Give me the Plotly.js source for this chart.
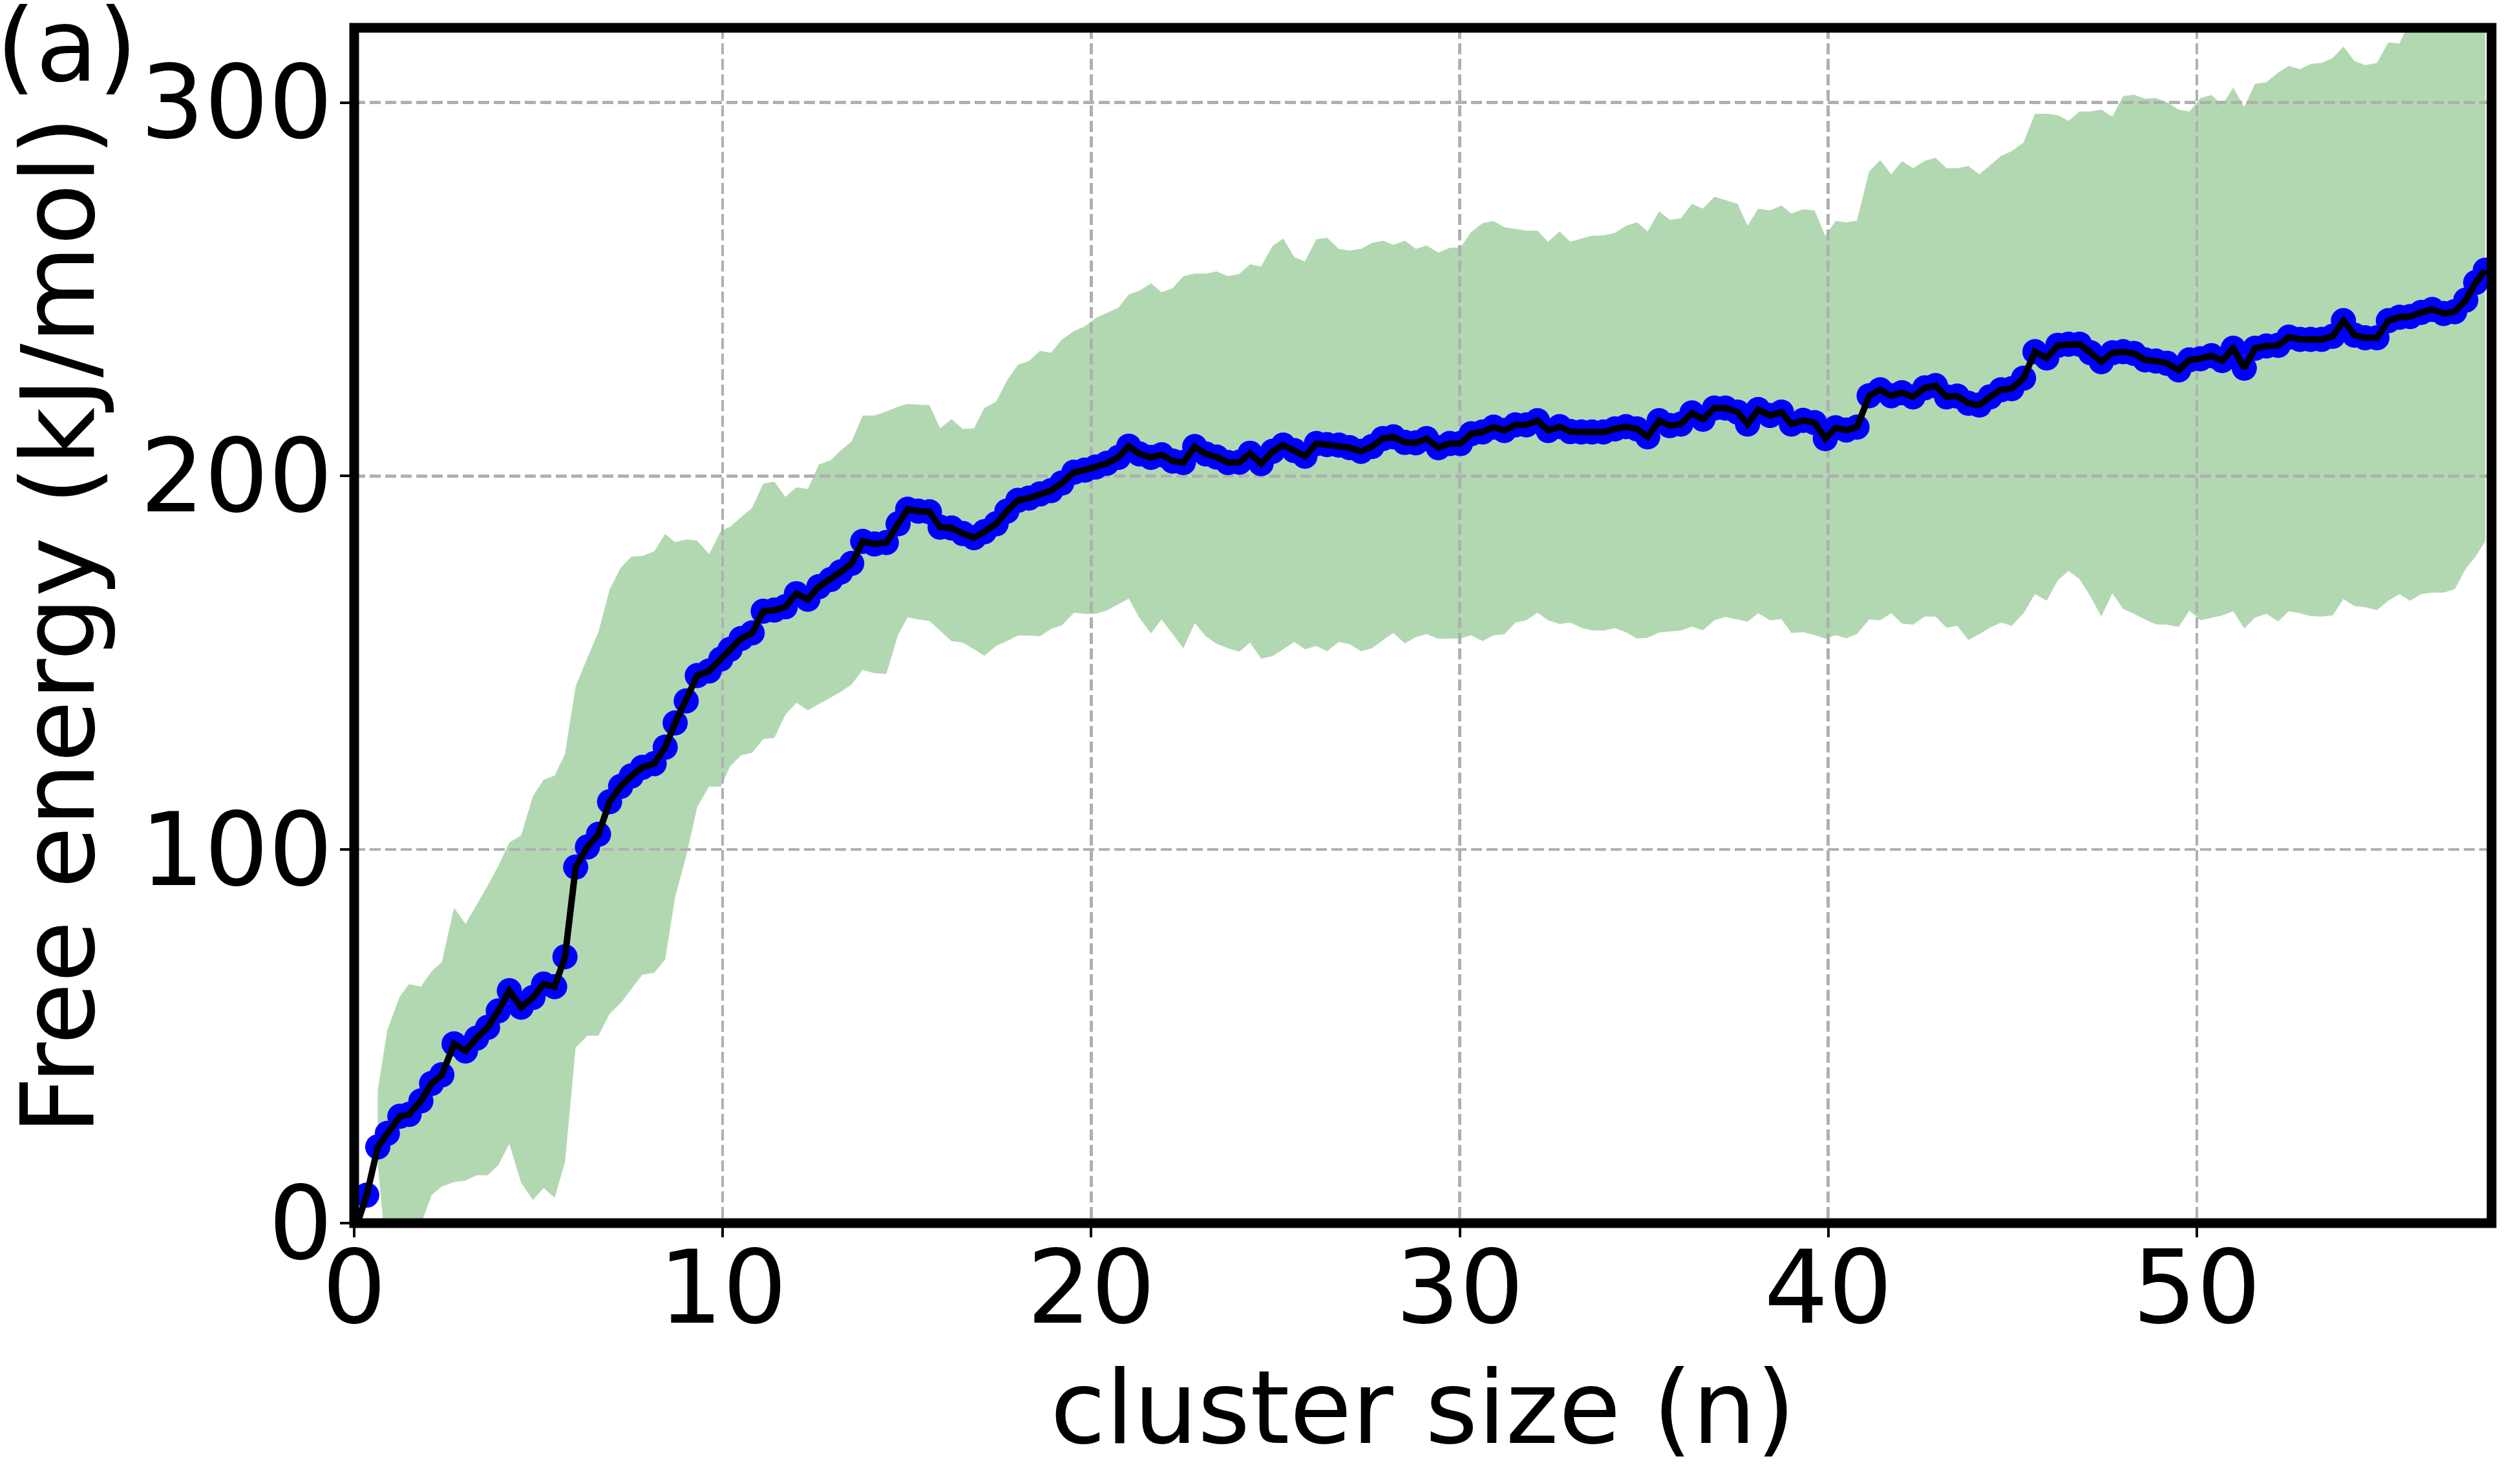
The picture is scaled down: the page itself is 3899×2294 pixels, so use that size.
<!DOCTYPE html>
<html>
<head>
<meta charset="utf-8">
<script src="https://cdn.plot.ly/plotly-3.0.1.min.js"></script>
<style>
  html, body { margin: 0; padding: 0; background: #fff; }
  #chart { width: 3899px; height: 2294px; }
</style>
</head>
<body>
<div id="chart"></div>
<script>
// cluster size (n) of every sample
let clusterSize = [
  0.02, 0.34, 0.64, 0.90, 1.24, 1.49, 1.81, 2.10, 2.38, 2.71, 3.02, 3.32, 3.62, 3.91, 4.21, 4.53, 4.85, 5.14, 5.44, 5.72,
  6.01, 6.33, 6.63, 6.93, 7.23, 7.52, 7.82, 8.14, 8.44, 8.71, 9.01, 9.31, 9.63, 9.95, 10.2, 10.5, 10.8, 11.1, 11.4, 11.7, 12.0,
  12.31, 12.61, 12.93, 13.2, 13.5, 13.8, 14.12, 14.44, 14.76, 15.02, 15.31, 15.61, 15.9, 16.21, 16.52, 16.82, 17.1, 17.42, 17.71, 18.01,
  18.31, 18.61, 18.91, 19.2, 19.53, 19.83, 20.12, 20.42, 20.74, 21.02, 21.31, 21.62, 21.91, 22.21, 22.5, 22.81, 23.11, 23.4, 23.71, 24.02,
  24.31, 24.61, 24.92, 25.21, 25.51, 25.8, 26.11,
  26.4, 26.72, 27.01, 27.32, 27.62, 27.91, 28.2, 28.51, 28.81, 29.1, 29.42, 29.73, 30.02, 30.31, 30.62, 30.92, 31.21, 31.51, 31.81, 32.11,
  32.4, 32.71, 33.0, 33.3, 33.59, 33.9, 34.21, 34.51, 34.81, 35.1, 35.41, 35.7, 36.0, 36.3, 36.6, 36.91, 37.21, 37.54, 37.81, 38.1,
  38.42, 38.73, 39.0, 39.32, 39.63, 39.92,
  40.2, 40.49, 40.78, 41.11, 41.41, 41.71, 42.0, 42.3, 42.62, 42.91, 43.21, 43.5, 43.8, 44.1, 44.39, 44.69, 44.98, 45.3, 45.61, 45.93,
  46.23, 46.52, 46.82, 47.12, 47.41, 47.71, 48.0, 48.3, 48.6, 48.89, 49.19, 49.51, 49.8, 50.1, 50.4, 50.69, 50.99, 51.29, 51.58, 51.89,
  52.21, 52.5, 52.8, 53.09, 53.39, 53.69, 53.98, 54.28, 54.57, 54.89, 55.2, 55.5, 55.79, 56.09, 56.39, 56.7, 57.0, 57.3, 57.57, 57.83
];

// mean free energy (kJ/mol)
let freeEnergy = [
  -2, 7.5, 20.4, 24.0, 28.6, 29.1, 32.7, 37.4, 39.7, 48.0, 46.1, 49.5, 52.4, 56.8, 62.2, 57.8, 60.4, 64.0, 63.3, 71.3,
  95.3, 100.7, 104.1, 112.8, 116.9, 119.7, 122.0, 123.0, 127.4, 133.9, 139.8, 146.6, 147.8, 151.0, 153.6, 156.5, 158.0, 163.8, 164.1, 165.0, 168.5,
  167.0, 170.4, 172.3, 174.3, 176.6, 182.5, 181.8, 182.2, 187.2, 191.1, 190.6, 190.4, 186.3, 186.1, 184.6, 183.5, 185.1, 187.2, 190.6, 193.5,
  194.1, 195.2, 196.1, 198.1, 201.0, 201.6, 202.4, 203.4, 205.0, 208.0, 205.9, 205.0, 205.7, 204.0, 203.6, 207.9, 205.9, 205.1, 203.6, 203.7,
  206.1, 203.3, 206.6, 208.3, 206.8, 205.3, 208.7,
  208.4, 208.3, 207.6, 206.6, 207.9, 210.0, 210.5, 209.0, 208.9, 210.0, 207.6, 208.7, 208.7, 211.3, 211.8, 213.1, 212.2, 213.7, 213.7, 214.8,
  212.2, 213.2, 211.9, 211.8, 211.8, 211.8, 212.6, 213.2, 212.6, 210.5, 214.8, 213.5, 213.9, 216.9, 215.2, 218.2, 218.2, 217.1, 213.9, 217.8,
  216.2, 217.1, 213.9, 214.9, 214.3, 210.0,
  212.9, 212.3, 213.1, 221.5, 223.1, 221.5, 222.3, 221.2, 223.6, 224.2, 221.2, 221.4, 219.5, 219.0, 221.2, 223.1, 223.4, 226.2, 233.3, 231.6,
  235.0, 235.3, 235.3, 233.0, 230.6, 233.0, 233.3, 232.8, 231.1, 230.8, 230.2, 228.4, 231.1, 231.4, 232.2, 230.9, 234.2, 228.9, 234.2, 234.8,
  235.0, 237.2, 236.6, 236.6, 236.6, 237.4, 241.6, 237.7, 237.0, 237.0, 241.6, 242.5, 242.7, 243.8, 244.6, 243.5, 244.0, 247.1, 251.8, 255.1
];

// upper edge of the spread
let upperBound = [
  null, null, 35.6, 51.7, 60.7, 64.0, 63.3, 67.4, 69.9, 84.4, 80.1, 85.2, 90.3, 95.6, 101.9, 103.8, 114.3, 118.7, 119.8, 125.6,
  143.7, 151.4, 158.3, 169.6, 175.4, 178.4, 178.6, 179.8, 184.5, 182.3, 183.0, 182.7, 179.1, 185.3, 186.4, 189.0, 191.5, 198.0, 198.5, 194.4, 197.0,
  196.5, 203.1, 204.2, 206.8, 209.3, 216.2, 216.2, 217.3, 218.6, 219.3, 219.1, 219.0, 212.8, 215.2, 212.6, 212.8, 218.2, 219.9, 225.5, 229.8,
  230.8, 233.5, 233.0, 236.5, 238.8, 240.1, 242.3, 243.6, 245.1, 248.6, 249.6, 251.6, 249.2, 250.3, 253.5, 254.2, 254.2, 254.8, 253.5, 254.1,
  256.7, 256.1, 261.6, 263.6, 258.6, 257.5, 263.4,
  263.8, 260.8, 260.4, 260.8, 262.4, 263.0, 261.9, 263.0, 260.8, 261.7, 259.8, 261.1, 261.2, 265.3, 267.7, 268.3, 266.6, 266.2, 265.7, 265.7,
  262.7, 265.5, 262.7, 263.6, 264.3, 264.4, 265.1, 267.0, 267.9, 265.5, 270.9, 268.6, 269.0, 272.9, 271.6, 274.8, 273.9, 272.9, 267.0, 271.6,
  271.1, 272.4, 270.3, 271.4, 271.1, 264.3,
  268.3, 267.9, 268.4, 281.5, 284.6, 280.8, 284.3, 282.4, 284.4, 285.2, 282.4, 282.4, 283.0, 280.8, 283.2, 285.7, 287.0, 289.3, 297.0, 297.0,
  296.6, 295.1, 297.6, 297.6, 298.1, 296.2, 301.7, 302.1, 301.0, 301.2, 300.1, 298.1, 297.6, 301.2, 302.0, 299.3, 304.0, 298.8, 305.0, 305.4,
  308.0, 309.8, 308.9, 310.3, 310.6, 311.9, 315.0, 311.1, 310.0, 310.6, 316.1, 315.8, 322, 321, 323, 321, 322, 324, 325, 327
];

// lower edge of the spread
let lowerBound = [
  null, null, 16, -12, -6, -9, -0.5, 7.5, 9.8, 11.0, 11.4, 12.8, 12.8, 15.5, 21.2, 10.8, 6.2, 9.4, 6.8, 16.3,
  47.0, 50.2, 50.2, 56.0, 58.9, 62.6, 66.5, 67.0, 70.6, 87.3, 98.3, 111.4, 116.9, 116.8, 122.3, 125.2, 125.9, 129.6, 129.9, 136.1, 139.3,
  137.3, 139.0, 140.7, 142.2, 144.2, 148.1, 147.2, 147.0, 157.5, 162.2, 161.6, 161.2, 158.6, 155.8, 155.4, 153.6, 151.9, 154.5, 155.8, 157.3,
  157.3, 157.1, 159.1, 160.0, 163.4, 163.1, 163.1, 164.0, 165.7, 167.2, 162.0, 157.9, 161.6, 157.7, 153.9, 160.6, 157.1, 155.1, 153.9, 153.0,
  155.4, 151.1, 151.8, 153.6, 155.6, 153.6, 154.5,
  153.1, 155.6, 155.0, 153.1, 153.9, 156.0, 158.0, 155.2, 156.9, 157.7, 156.4, 156.5, 156.5, 157.4, 155.8, 157.4, 157.6, 160.8, 161.4, 163.4,
  161.4, 160.4, 160.8, 159.4, 158.7, 158.6, 159.3, 158.2, 156.5, 156.7, 158.1, 158.4, 158.6, 159.7, 158.7, 161.4, 162.3, 161.6, 161.0, 163.3,
  161.4, 161.7, 158.0, 158.2, 157.4, 156.5,
  157.4, 156.6, 157.7, 161.6, 161.4, 163.3, 160.5, 160.2, 162.4, 162.4, 159.4, 159.9, 156.1, 157.7, 159.4, 160.8, 159.9, 163.3, 168.4, 166.6,
  172.1, 174.6, 172.4, 167.7, 162.4, 168.6, 164.4, 163.1, 161.6, 160.3, 160.2, 159.6, 164.0, 161.4, 162.1, 162.7, 163.8, 159.2, 162.1, 163.1,
  161.1, 163.8, 163.3, 162.5, 162.4, 162.7, 167.1, 165.2, 164.9, 164.1, 166.6, 168.4, 166.6, 168.4, 168.8, 168.8, 169.7, 175.2, 178.5, 182.6
];

let xTicks = [0, 10, 20, 30, 40, 50];
let yTicks = [0, 100, 200, 300];

let fontFamily = 'DejaVu Sans, sans-serif';

function bandPolygon() {
  let xs = [];
  let up = [];
  let lo = [];
  for(let i = 0; i < clusterSize.length; i++) {
    if(upperBound[i] === null || lowerBound[i] === null) {
      continue;
    }
    xs.push(clusterSize[i]);
    up.push(upperBound[i]);
    lo.push(lowerBound[i]);
  }
  return {
    x: xs.concat(xs.slice().reverse()),
    y: up.concat(lo.slice().reverse())
  };
}

let band = bandPolygon();

// band sits on its own subplot, underneath the grid of the second one
let traces = [
  {
    x: band.x,
    y: band.y,
    xaxis: 'x',
    yaxis: 'y',
    mode: 'lines',
    fill: 'toself',
    fillcolor: 'rgb(178,216,178)',
    line: {width: 0, color: 'rgba(0,0,0,0)'},
    hoverinfo: 'skip'
  },
  {
    x: clusterSize,
    y: freeEnergy,
    xaxis: 'x2',
    yaxis: 'y2',
    mode: 'markers',
    marker: {color: 'rgb(0,0,255)', size: 39, line: {width: 0}}
  },
  {
    x: clusterSize,
    y: freeEnergy,
    xaxis: 'x2',
    yaxis: 'y2',
    mode: 'lines',
    line: {color: 'black', width: 10}
  }
];

let hidden = {
  range: [0, 58],
  domain: [0, 1],
  showgrid: false,
  zeroline: false,
  showticklabels: false,
  ticks: '',
  showline: false
};

let layout = {
  width: 3899,
  height: 2294,
  margin: {l: 548, r: 44, t: 43, b: 402},
  paper_bgcolor: 'white',
  plot_bgcolor: 'rgba(0,0,0,0)',
  showlegend: false,
  font: {family: fontFamily, size: 156, color: 'black'},
  xaxis: Object.assign({}, hidden, {anchor: 'y'}),
  yaxis: Object.assign({}, hidden, {range: [0, 320], anchor: 'x'}),
  xaxis2: {
    range: [0, 58],
    domain: [0, 1],
    anchor: 'y2',
    tickmode: 'array',
    tickvals: xTicks,
    ticktext: xTicks.map(String),
    ticks: 'outside',
    ticklen: 21,
    tickwidth: 4,
    tickcolor: 'black',
    ticklabelstandoff: -55,
    tickfont: {family: fontFamily, size: 156, color: 'black'},
    showgrid: true,
    gridcolor: '#b0b0b0',
    gridwidth: 4.5,
    griddash: '17px,7px',
    zeroline: false,
    showline: false,
    title: {text: 'cluster size (n)', font: {family: fontFamily, size: 156, color: 'black'}, standoff: 40}
  },
  yaxis2: {
    range: [0, 320],
    domain: [0, 1],
    anchor: 'x2',
    tickmode: 'array',
    tickvals: yTicks,
    ticktext: yTicks.map(String),
    ticks: 'outside',
    ticklen: 21,
    tickwidth: 4,
    tickcolor: 'black',
    ticklabelstandoff: -20,
    tickfont: {family: fontFamily, size: 156, color: 'black'},
    showgrid: true,
    gridcolor: '#b0b0b0',
    gridwidth: 4.5,
    griddash: '17px,7px',
    zeroline: false,
    showline: false,
    title: {text: 'Free energy (kJ/mol)', font: {family: fontFamily, size: 156, color: 'black'}, standoff: 38}
  },
  shapes: [
    {
      type: 'rect',
      xref: 'paper',
      yref: 'paper',
      x0: 0, x1: 1, y0: 0, y1: 1,
      line: {color: 'black', width: 15},
      layer: 'above'
    }
  ],
  annotations: [
    {
      xref: 'paper',
      yref: 'paper',
      x: -0.168,
      y: 0.985,
      xanchor: 'left',
      yanchor: 'middle',
      showarrow: false,
      text: '(a)',
      font: {family: fontFamily, size: 157, color: 'black'}
    }
  ]
};

let opts = {
  displayModeBar: false,
  displaylogo: false,
  staticPlot: true
};

Plotly.newPlot('chart', traces, layout, opts);
</script>
</body>
</html>
